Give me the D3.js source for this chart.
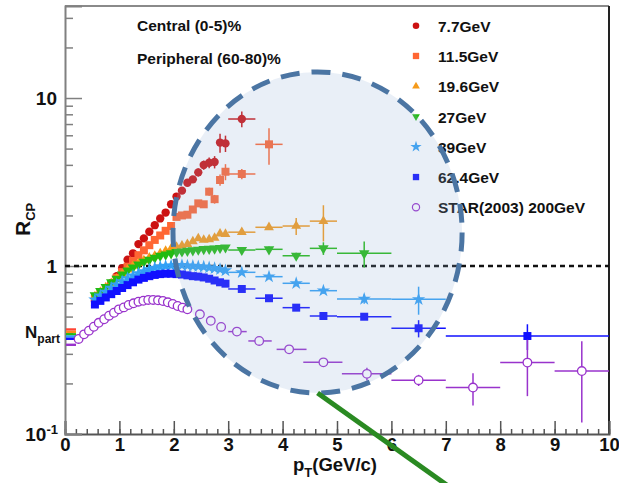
<!DOCTYPE html>
<html>
<head>
<meta charset="utf-8">
<script src="https://cdn.jsdelivr.net/npm/d3@7"></script>
<style>
  html, body { margin: 0; padding: 0; background: #fff; }
  svg { display: block; }
  text { font-family: "Liberation Sans", Arial, Helvetica, sans-serif; font-weight: bold; fill: #111; }
</style>
</head>
<body>
<svg id="chart" width="619" height="483"></svg>
<script>
// ---- R_CP vs pT, central (0-5)% over peripheral (60-80)% ----

// fine pT bins (GeV/c) shared by the BES energies
const ptFine = [0.55, 0.65, 0.75, 0.85, 0.95, 1.05, 1.15, 1.25, 1.35, 1.45, 1.55, 1.65, 1.75,
                1.85, 1.95, 2.05, 2.15, 2.25, 2.35, 2.45, 2.55, 2.65, 2.75, 2.85, 2.95];
// coarse pT bins and their half widths
const ptCoarse = [3.25, 3.75, 4.25, 4.75, 5.5, 6.5, 8.5];
const ptCoarseHalf = [0.25, 0.25, 0.25, 0.25, 0.5, 0.5, 1.5];

// 7.7 GeV
const rcp77Fine = [0.62, 0.66, 0.72, 0.79, 0.87, 0.97, 1.09, 1.19, 1.35, 1.46, 1.60, 1.75, 1.92,
                   2.08, 2.33, 2.59, 2.81, 3.13, 3.28, 3.61, 3.99, 4.12, 4.16, 5.43, 5.37];
const rcp77FineErr = [0, 0, 0, 0, 0, 0, 0, 0, 0, 0, 0, 0, 0, 0, 0, 0, 0, 0, 0, 0.2, 0.25, 0.3, 0.35, 0.7, 0.6];
const rcp77Coarse = [7.5];
const rcp77CoarseErr = [0.8];

// 11.5 GeV
const rcp115Fine = [0.64, 0.68, 0.73, 0.78, 0.85, 0.92, 0.99, 1.07, 1.16, 1.24, 1.33, 1.43, 1.52,
                    1.62, 1.73, 1.96, 2.00, 2.02, 2.17, 2.36, 2.33, 2.77, 2.50, 3.25, 3.64];
const rcp115FineErr = [0, 0, 0, 0, 0, 0, 0, 0, 0, 0, 0, 0, 0, 0, 0, 0, 0, 0, 0, 0.1, 0.1, 0.15, 0.15, 0.25, 0.4];
const rcp115Coarse = [3.53, 5.3];
const rcp115CoarseErr = [0.25, 1.3];

// 19.6 GeV
const rcp196Fine = [0.66, 0.70, 0.745, 0.79, 0.84, 0.89, 0.95, 1.00, 1.04, 1.08, 1.12, 1.15, 1.19,
                    1.23, 1.27, 1.30, 1.32, 1.35, 1.40, 1.46, 1.43, 1.44, 1.47, 1.56, 1.55];
const rcp196Coarse = [1.59, 1.70, 1.73, 1.85];
const rcp196CoarseErr = [0.05, 0.06, 0.2, 0.45];

// 27 GeV
const rcp27Fine = [0.67, 0.71, 0.75, 0.80, 0.84, 0.89, 0.94, 0.98, 1.02, 1.06, 1.09, 1.12, 1.15,
                   1.17, 1.19, 1.21, 1.22, 1.23, 1.24, 1.25, 1.26, 1.265, 1.27, 1.28, 1.29];
const rcp27Coarse = [1.245, 1.257, 1.151, 1.274, 1.19];
const rcp27CoarseErr = [0.04, 0.05, 0.05, 0.11, 0.21];

// 39 GeV
const rcp39Fine = [0.63, 0.665, 0.70, 0.74, 0.775, 0.81, 0.845, 0.875, 0.905, 0.93, 0.955, 0.975, 0.99,
                   1.0, 1.005, 1.01, 1.01, 1.005, 1.0, 0.995, 0.99, 0.98, 0.97, 0.955, 0.94];
const rcp39Coarse = [0.917, 0.864, 0.789, 0.713, 0.636, 0.633];
const rcp39CoarseErr = [0.03, 0.03, 0.03, 0.03, 0.04, 0.12];

// 62.4 GeV
const rcp624Fine = [0.59, 0.62, 0.65, 0.68, 0.71, 0.74, 0.77, 0.80, 0.83, 0.85, 0.87, 0.885, 0.895,
                    0.90, 0.90, 0.895, 0.89, 0.88, 0.87, 0.865, 0.855, 0.84, 0.82, 0.80, 0.785];
const rcp624Coarse = [0.73, 0.643, 0.565, 0.504, 0.499, 0.426, 0.383];
const rcp624CoarseErr = [0.02, 0.02, 0.02, 0.02, 0.02, 0.05, 0.067];

// STAR (2003) 200 GeV
const starPtFine = [0.25, 0.35, 0.44, 0.53, 0.62, 0.72, 0.81, 0.90, 0.99, 1.08, 1.17, 1.26, 1.35,
                    1.44, 1.53, 1.62, 1.71, 1.80, 1.89, 1.98, 2.07, 2.16, 2.25, 2.48, 2.68, 2.87];
const starRcpFine = [0.368, 0.392, 0.412, 0.435, 0.459, 0.482, 0.506, 0.527, 0.552, 0.567, 0.586, 0.600, 0.613,
                     0.621, 0.628, 0.628, 0.625, 0.619, 0.608, 0.594, 0.578, 0.565, 0.552, 0.516, 0.472, 0.434];
const starPtCoarse = [3.16, 3.57, 4.12, 4.75, 5.55, 6.5, 7.5, 8.5, 9.5];
const starPtLo = [3.0, 3.37, 3.89, 4.38, 5.09, 6.0, 7.0, 8.0, 9.0];
const starPtHi = [3.34, 3.80, 4.44, 5.10, 6.0, 7.0, 8.0, 9.0, 10.0];
const starRcpCoarse = [0.407, 0.358, 0.319, 0.267, 0.228, 0.209, 0.189, 0.266, 0.237];
const starRcpCoarseErr = [0.01, 0.01, 0.012, 0.013, 0.02, 0.016, 0.041, 0.098, 0.12];

// N_part scaling levels drawn at the left edge
const npartLevels = [0.419, 0.405, 0.392, 0.3805, 0.3687, 0.3396];
const npartColors = ["#ff4433", "#ff8a1a", "#22bb11", "#33a0f5", "#1010ff", "#9933cc"];

// legend entries
const legendLabels = ["7.7GeV", "11.5GeV", "19.6GeV", "27GeV", "39GeV", "62.4GeV", "STAR(2003) 200GeV"];

// tick values
const xMajorTicks = [0, 1, 2, 3, 4, 5, 6, 7, 8, 9, 10];
const yMajorTicks = [0.1, 1, 10];
const yMinorTicks = [0.2, 0.3, 0.4, 0.5, 0.6, 0.7, 0.8, 0.9, 2, 3, 4, 5, 6, 7, 8, 9, 20, 30];

// highlighted region (in data coordinates: pT range and R_CP range)
const regionPt = [1.985, 7.30];
const regionRcp = [0.1754, 14.3];

// ---------------------------------------------------------------------
const svg = d3.select("#chart");
const x = d3.scaleLinear().domain([0, 10]).range([65, 609]);
const y = d3.scaleLog().domain([0.1, 35.3]).range([434, 6]);

const colors = {
  c77: "#cc1111", c115: "#ff6633", c196: "#f59a1a", c27: "#22bb11",
  c39: "#33a0f5", c624: "#1010ff", star: "#9933cc"
};

// frame
svg.append("line").attr("x1", x(0)).attr("x2", x(10)).attr("y1", y(35.3)).attr("y2", y(35.3))
  .attr("stroke", "#8a8a8a").attr("stroke-width", 2);
svg.append("line").attr("x1", x(10)).attr("x2", x(10)).attr("y1", y(35.3)).attr("y2", y(0.1))
  .attr("stroke", "#222").attr("stroke-width", 2);

// x axis: major and minor ticks pointing inward
const xMinor = d3.range(0, 10.001, 0.2).map(v => +v.toFixed(1));
svg.append("g").attr("transform", `translate(0,${y(0.1)})`)
  .call(d3.axisBottom(x).tickValues(xMinor).tickSize(-5).tickFormat(""))
  .call(g => { g.select(".domain").remove(); g.selectAll("line").attr("stroke", "#555").attr("stroke-width", 1.5); });
const gx = svg.append("g").attr("transform", `translate(0,${y(0.1)})`)
  .call(d3.axisBottom(x).tickValues(xMajorTicks).tickSize(-13).tickPadding(4).tickFormat(d3.format("d")));
gx.select(".domain").attr("stroke", "#555").attr("stroke-width", 2);
gx.selectAll("line").attr("stroke", "#555").attr("stroke-width", 1.5);
gx.selectAll("text").attr("font-size", 18.5).attr("font-family", null).attr("fill", "#111");

// y axis
svg.append("g").attr("transform", `translate(${x(0)},0)`)
  .call(d3.axisLeft(y).tickValues(yMinorTicks).tickSize(-8).tickFormat(""))
  .call(g => { g.select(".domain").remove(); g.selectAll("line").attr("stroke", "#808080").attr("stroke-width", 1.5); });
const gy = svg.append("g").attr("transform", `translate(${x(0)},0)`)
  .call(d3.axisLeft(y).tickValues(yMajorTicks).tickSize(-17).tickFormat(""));
gy.select(".domain").attr("stroke", "#808080").attr("stroke-width", 2);
gy.selectAll("line").attr("stroke", "#808080").attr("stroke-width", 1.5);

// y tick labels
svg.append("text").attr("x", x(0) - 8).attr("y", y(10) + 7).attr("text-anchor", "end")
  .attr("font-size", 19).text("10");
svg.append("text").attr("x", x(0) - 8).attr("y", y(1) + 7).attr("text-anchor", "end")
  .attr("font-size", 19).text("1");
const tm = svg.append("text").attr("x", x(0) - 7).attr("y", y(0.1) + 7).attr("text-anchor", "end")
  .attr("font-size", 19);
tm.append("tspan").text("10");
tm.append("tspan").attr("font-size", 13).attr("dy", -7).text("-1");

// axis titles
const xt = svg.append("text").attr("x", 293).attr("y", 471).attr("font-size", 18.5);
xt.append("tspan").text("p");
xt.append("tspan").attr("font-size", 13).attr("dy", 6).text("T");
xt.append("tspan").attr("dy", -6).text("(GeV/c)");

const yt = svg.append("text").attr("transform", `translate(30,236) rotate(-90)`).attr("font-size", 21);
yt.append("tspan").text("R");
yt.append("tspan").attr("font-size", 13).attr("dy", 5).text("CP");

const np = svg.append("text").attr("x", 60).attr("y", 338).attr("text-anchor", "end").attr("font-size", 17);
np.append("tspan").text("N");
np.append("tspan").attr("font-size", 12).attr("dy", 5).text("part");

// reference line at R_CP = 1
svg.append("line").attr("x1", x(0)).attr("x2", x(10)).attr("y1", y(1)).attr("y2", y(1))
  .attr("stroke", "#111").attr("stroke-width", 2.5).attr("stroke-dasharray", "5,4");

// N_part levels
svg.selectAll("rect.npart").data(npartLevels).join("rect").attr("class", "npart")
  .attr("x", x(0) + 1).attr("width", 10).attr("y", d => y(d) - 1.2).attr("height", 2.4)
  .attr("fill", (d, i) => npartColors[i]);

// ---- series ----
function drawSeries(opts) {
  const g = svg.append("g");
  const fine = ptFine.map((p, i) => ({ pt: p, v: opts.fine[i], e: opts.fineErr ? opts.fineErr[i] : 0, h: 0 }));
  const coarse = opts.coarse.map((v, i) => ({ pt: ptCoarse[i], v: v, e: opts.coarseErr[i], h: ptCoarseHalf[i] }));
  const all = fine.concat(coarse);
  // error bars
  g.selectAll("line.ex").data(all.filter(d => d.h > 0)).join("line")
    .attr("x1", d => x(d.pt - d.h)).attr("x2", d => x(d.pt + d.h))
    .attr("y1", d => y(d.v)).attr("y2", d => y(d.v))
    .attr("stroke", opts.color).attr("stroke-width", 1.5);
  g.selectAll("line.ey").data(all.filter(d => d.e > 0)).join("line")
    .attr("x1", d => x(d.pt)).attr("x2", d => x(d.pt))
    .attr("y1", d => y(d.v + d.e)).attr("y2", d => y(Math.max(d.v - d.e, 0.101)))
    .attr("stroke", opts.color).attr("stroke-width", 1.5);
  // markers
  g.selectAll("path.m").data(all).join("path")
    .attr("transform", d => `translate(${x(d.pt)},${y(d.v)}) rotate(${opts.rot || 0})`)
    .attr("d", d3.symbol().type(opts.shape).size(opts.size)())
    .attr("fill", opts.color);
}

drawSeries({ fine: rcp77Fine, fineErr: rcp77FineErr, coarse: rcp77Coarse, coarseErr: rcp77CoarseErr,
  color: colors.c77, shape: d3.symbolCircle, size: 55 });
drawSeries({ fine: rcp115Fine, fineErr: rcp115FineErr, coarse: rcp115Coarse, coarseErr: rcp115CoarseErr,
  color: colors.c115, shape: d3.symbolSquare, size: 64 });
drawSeries({ fine: rcp196Fine, coarse: rcp196Coarse, coarseErr: rcp196CoarseErr,
  color: colors.c196, shape: d3.symbolTriangle, size: 42 });
drawSeries({ fine: rcp27Fine, coarse: rcp27Coarse, coarseErr: rcp27CoarseErr,
  color: colors.c27, shape: d3.symbolTriangle, size: 48, rot: 180 });
drawSeries({ fine: rcp39Fine, coarse: rcp39Coarse, coarseErr: rcp39CoarseErr,
  color: colors.c39, shape: d3.symbolStar, size: 55 });
drawSeries({ fine: rcp624Fine, coarse: rcp624Coarse, coarseErr: rcp624CoarseErr,
  color: colors.c624, shape: d3.symbolSquare, size: 64 });

// STAR 200 GeV, open circles
(function () {
  const g = svg.append("g");
  const fine = starPtFine.map((p, i) => ({ pt: p, v: starRcpFine[i], lo: p, hi: p, e: 0 }));
  const coarse = starPtCoarse.map((p, i) => ({ pt: p, v: starRcpCoarse[i], lo: starPtLo[i], hi: starPtHi[i], e: starRcpCoarseErr[i] }));
  const all = fine.concat(coarse);
  g.selectAll("line.ex").data(coarse).join("line")
    .attr("x1", d => x(d.lo)).attr("x2", d => x(d.hi)).attr("y1", d => y(d.v)).attr("y2", d => y(d.v))
    .attr("stroke", colors.star).attr("stroke-width", 1.5);
  g.selectAll("line.ey").data(coarse).join("line")
    .attr("x1", d => x(d.pt)).attr("x2", d => x(d.pt)).attr("y1", d => y(d.v + d.e)).attr("y2", d => y(d.v - d.e))
    .attr("stroke", colors.star).attr("stroke-width", 1.5);
  g.selectAll("circle").data(all).join("circle")
    .attr("cx", d => x(d.pt)).attr("cy", d => y(d.v)).attr("r", 4.3)
    .attr("fill", "#fff").attr("stroke", colors.star).attr("stroke-width", 1.3);
})();

// labels
svg.append("text").attr("x", 137).attr("y", 31).attr("font-size", 15.5).text("Central (0-5)%");
svg.append("text").attr("x", 137).attr("y", 64).attr("font-size", 15.5).text("Peripheral (60-80)%");

// legend
const legendShapes = [
  { shape: d3.symbolCircle, size: 34, color: colors.c77 },
  { shape: d3.symbolSquare, size: 40, color: colors.c115 },
  { shape: d3.symbolTriangle, size: 26, color: colors.c196 },
  { shape: d3.symbolTriangle, size: 26, color: colors.c27, rot: 180 },
  { shape: d3.symbolStar, size: 40, color: colors.c39 },
  { shape: d3.symbolSquare, size: 40, color: colors.c624 },
  { open: true, color: colors.star }
];
const legendY = i => 25.7 + i * 30.27;
const lg = svg.append("g");
legendLabels.forEach((lab, i) => {
  const s = legendShapes[i];
  if (s.open) {
    lg.append("circle").attr("cx", 416).attr("cy", legendY(i)).attr("r", 3.6)
      .attr("fill", "#fff").attr("stroke", s.color).attr("stroke-width", 1.2);
  } else {
    lg.append("path").attr("transform", `translate(416,${legendY(i)}) rotate(${s.rot || 0})`)
      .attr("d", d3.symbol().type(s.shape).size(s.size)()).attr("fill", s.color);
  }
  lg.append("text").attr("x", 438).attr("y", legendY(i) + 6).attr("font-size", 15.5).text(lab);
});

// highlighted region
const ex0 = x(regionPt[0]), ex1 = x(regionPt[1]);
const ey0 = y(regionRcp[1]), ey1 = y(regionRcp[0]);
const ecx = (ex0 + ex1) / 2, ecy = (ey0 + ey1) / 2;
svg.append("ellipse").attr("cx", ecx).attr("cy", ecy)
  .attr("rx", (ex1 - ex0) / 2).attr("ry", (ey1 - ey0) / 2)
  .attr("fill", "rgb(145,175,215)").attr("fill-opacity", 0.2)
  .attr("stroke", "#4b75a3").attr("stroke-width", 5).attr("stroke-dasharray", "19,12");

// pointer from the region's lower edge
svg.append("line").attr("x1", ecx).attr("y1", ey1).attr("x2", ecx + 132).attr("y2", ey1 + 94)
  .attr("stroke", "#2a8a22").attr("stroke-width", 5);
</script>
</body>
</html>
